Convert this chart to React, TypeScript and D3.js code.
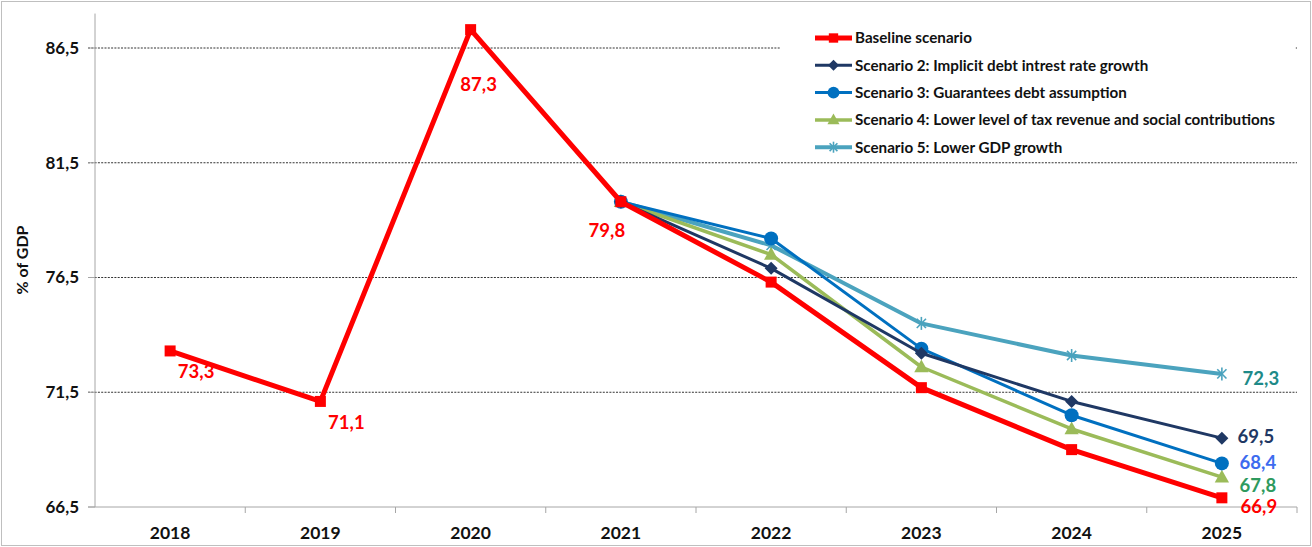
import React from "react";
import * as d3 from "d3";

const years = ["2018", "2019", "2020", "2021", "2022", "2023", "2024", "2025"];
const baseline = [73.3, 71.1, 87.3, 79.8, 76.3, 71.7, 69.0, 66.9];
const scenario2 = [null, null, null, 79.8, 76.9, 73.2, 71.1, 69.5];
const scenario3 = [null, null, null, 79.8, 78.2, 73.4, 70.5, 68.4];
const scenario4 = [null, null, null, 79.8, 77.5, 72.6, 69.9, 67.8];
const scenario5 = [null, null, null, 79.8, 77.9, 74.5, 73.1, 72.3];
const yTicks = [66.5, 71.5, 76.5, 81.5, 86.5];
const seriesNames = [
  "Baseline scenario",
  "Scenario 2: Implicit debt intrest rate growth",
  "Scenario 3: Guarantees debt assumption",
  "Scenario 4: Lower level of tax revenue and social contributions",
  "Scenario 5: Lower GDP growth",
];

const W = 1312;
const H = 547;
const FONT = "Lato, 'Open Sans', sans-serif";

type Marker = "square" | "diamond" | "circle" | "triangle" | "asterisk";

const series = [
  { name: seriesNames[0], values: baseline, color: "#FF0000", width: 5, marker: "square" as Marker, labelColor: "#FF0000" },
  { name: seriesNames[1], values: scenario2, color: "#1F3864", width: 3, marker: "diamond" as Marker, labelColor: "#1F3864" },
  { name: seriesNames[2], values: scenario3, color: "#0070C0", width: 3, marker: "circle" as Marker, labelColor: "#3D6BEF" },
  { name: seriesNames[3], values: scenario4, color: "#9BBB59", width: 3.5, marker: "triangle" as Marker, labelColor: "#2E9A5E" },
  { name: seriesNames[4], values: scenario5, color: "#4BA3BE", width: 4, marker: "asterisk" as Marker, labelColor: "#1E8A88" },
];

function MarkerShape({ type, x, y, color, scale = 1 }: { type: Marker; x: number; y: number; color: string; scale?: number }) {
  const s = scale;
  if (type === "square") {
    return <rect x={x - 5.5 * s} y={y - 5.5 * s} width={11 * s} height={11 * s} fill={color} />;
  }
  if (type === "diamond") {
    const r = 6.5 * s;
    return <path d={`M${x},${y - r}L${x + r},${y}L${x},${y + r}L${x - r},${y}Z`} fill={color} />;
  }
  if (type === "circle") {
    return <circle cx={x} cy={y} r={7 * s} fill={color} />;
  }
  if (type === "triangle") {
    const r = 7.5 * s;
    return <path d={`M${x},${y - r}L${x + r * 0.95},${y + r * 0.7}L${x - r * 0.95},${y + r * 0.7}Z`} fill={color} />;
  }
  const r = 6.5 * s;
  const a = r * 0.7071;
  return (
    <g stroke={color} strokeWidth={1.6}>
      <line x1={x - a} y1={y - a} x2={x + a} y2={y + a} />
      <line x1={x - a} y1={y + a} x2={x + a} y2={y - a} />
      <line x1={x} y1={y - r} x2={x} y2={y + r} />
    </g>
  );
}

export default function App() {
  const plotLeft = 95;
  const plotRight = 1297;
  const x = d3.scaleBand<string>().domain(years).range([plotLeft, plotRight]).padding(0);
  const cx = (d: string) => (x(d) as number) + x.bandwidth() / 2;
  const y = d3.scaleLinear().domain([66.5, 86.5]).range([507, 48]);
  const yTop = y(88);

  const line = d3
    .line<[string, number | null]>()
    .defined((d) => d[1] != null)
    .x((d) => cx(d[0]))
    .y((d) => y(d[1] as number));

  // Data labels: baseline year points plus the end values of each scenario
  const baseLabels = [
    { i: 0, dx: 26, dy: 27 },
    { i: 1, dx: 26, dy: 28 },
    { i: 2, dx: 8, dy: 61 },
    { i: 3, dx: -14, dy: 35 },
    { i: 7, dx: 37, dy: 15 },
  ];
  const endLabels = [
    { s: 1, dx: 34, dy: 5 },
    { s: 2, dx: 36, dy: 6 },
    { s: 3, dx: 36, dy: 15 },
    { s: 4, dx: 39, dy: 11 },
  ];

  const legendX = 815;
  const legendY0 = 38;
  const legendStep = 27.3;

  return (
    <svg width={W} height={H} style={{ position: "absolute", left: 0, top: 0, background: "#fff" }} fontFamily={FONT}>
      <rect x={1.5} y={1.5} width={W - 3} height={H - 3} fill="#fff" stroke="#BFBFBF" strokeWidth={1} />

      {/* gridlines */}
      {yTicks.slice(1).map((t) => (
        <line key={t} x1={88} x2={plotRight} y1={y(t)} y2={y(t)} stroke="#333" strokeWidth={1} strokeDasharray="2,1.3" />
      ))}

      {/* axes */}
      <line x1={plotLeft} x2={plotLeft} y1={yTop} y2={y(66.5)} stroke="#A6A6A6" strokeWidth={1} />
      <line x1={plotLeft - 7} x2={plotRight} y1={y(66.5)} y2={y(66.5)} stroke="#A6A6A6" strokeWidth={1} />
      {years.map((d) => (
        <line key={"t" + d} x1={(x(d) as number) + x.bandwidth()} x2={(x(d) as number) + x.bandwidth()} y1={y(66.5)} y2={y(66.5) + 6} stroke="#A6A6A6" />
      ))}
      {yTicks.map((t) => (
        <g key={"yl" + t}>
          <line x1={plotLeft - 7} x2={plotLeft} y1={y(t)} y2={y(t)} stroke="#A6A6A6" />
          <text x={79} y={y(t)} dy="0.35em" textAnchor="end" fontSize={17} fontWeight={700} fill="#111">
            {t.toFixed(1).replace(".", ",")}
          </text>
        </g>
      ))}
      {years.map((d) => (
        <text key={"xl" + d} x={cx(d)} y={539} textAnchor="middle" fontSize={17.5} fontWeight={700} fill="#111">
          {d}
        </text>
      ))}
      <text transform={`translate(28,${260}) rotate(-90)`} textAnchor="middle" fontSize={16} fontWeight={700} fill="#111">
        % of GDP
      </text>

      {/* legend background hides gridline behind it */}
      <rect x={780} y={22} width={515} height={138} fill="#fff" />

      {/* lines, drawn from last scenario to baseline so baseline sits on top */}
      {[...series].reverse().map((s) => {
        const pts = years.map((d, i) => [d, s.values[i]] as [string, number | null]);
        return (
          <g key={s.name}>
            <path d={line(pts) || ""} fill="none" stroke={s.color} strokeWidth={s.width} strokeLinejoin="round" />
            {pts
              .filter((p) => p[1] != null)
              .map((p) => (
                <MarkerShape key={p[0]} type={s.marker} x={cx(p[0])} y={y(p[1] as number)} color={s.color} />
              ))}
          </g>
        );
      })}

      {/* data labels */}
      {baseLabels.map((l) => (
        <text key={"bl" + l.i} x={cx(years[l.i]) + l.dx} y={y(baseline[l.i]) + l.dy} textAnchor="middle" fontSize={18.5} fontWeight={700} fill="#FF0000">
          {baseline[l.i].toFixed(1).replace(".", ",")}
        </text>
      ))}
      {endLabels.map((l) => {
        const s = series[l.s];
        const v = s.values[7] as number;
        return (
          <text key={"el" + l.s} x={cx("2025") + l.dx} y={y(v) + l.dy} textAnchor="middle" fontSize={18.5} fontWeight={700} fill={s.labelColor}>
            {v.toFixed(1).replace(".", ",")}
          </text>
        );
      })}

      {/* legend */}
      {series.map((s, i) => {
        const ly = legendY0 + i * legendStep;
        return (
          <g key={"lg" + i}>
            <line x1={legendX} x2={legendX + 37} y1={ly} y2={ly} stroke={s.color} strokeWidth={s.width} />
            <MarkerShape type={s.marker} x={legendX + 18.5} y={ly} color={s.color} scale={0.85} />
            <text x={legendX + 40} y={ly} dy="0.35em" fontSize={15.2} fontWeight={700} fill="#111">
              {s.name}
            </text>
          </g>
        );
      })}
    </svg>
  );
}
